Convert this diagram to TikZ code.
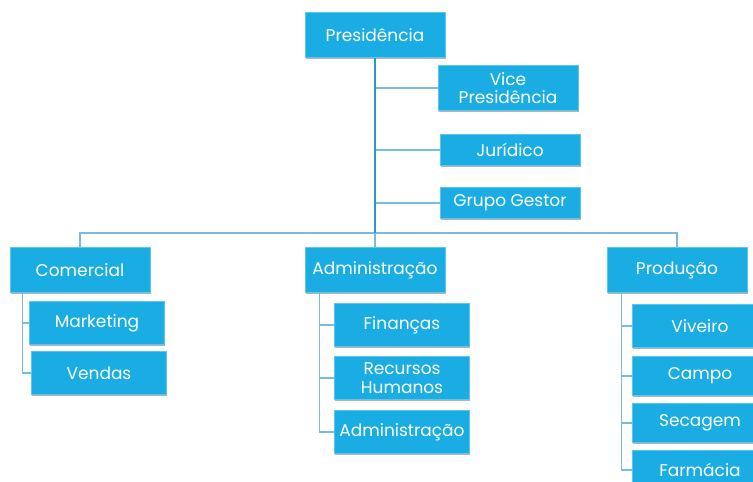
\documentclass[tikz,border=0pt]{standalone}
\usepackage{fontspec}
\setmainfont{Poppins}
\usepackage{tikz}
\usetikzlibrary{positioning}

\definecolor{boxblue}{HTML}{1AADE4}
\definecolor{boxedge}{HTML}{5CC6EE}
\definecolor{trunkblue}{HTML}{2C98C8}
\definecolor{linkblue}{HTML}{78BCDC}

\tikzset{
  unit/.style={fill=boxblue, draw=boxedge, line width=0.6pt, text=white,
    preaction={fill=black!30, transform canvas={shift={(0.6pt,-0.9pt)}}},
    align=center, inner sep=0pt, font=\fontsize{14.5}{16}\selectfont,
    minimum width=4.2cm, minimum height=1.35cm},
  subunit/.style={unit, minimum width=4.05cm, minimum height=1.3cm},
  trunk/.style={draw=trunkblue, line width=2.2pt},
  link/.style={draw=linkblue, line width=1.1pt}
}

\begin{document}
\begin{tikzpicture}[x=0.03cm,y=-0.03cm]
  \useasboundingbox (0,0) rectangle (753,482);
  \clip (0,0) rectangle (753,482);

  % topo
  \node[unit] (pres) at (375,35) {Presidência};
  \node[unit] (vice) at (508,88) {Vice\\Presidência};
  \node[unit, minimum height=0.93cm] (jur) at (510,150) {Jurídico};
  \node[unit, minimum height=0.93cm] (gest) at (510,203) {Grupo Gestor};

  % diretorias
  \node[unit] (com) at (80,270) {Comercial};
  \node[unit] (adm) at (375,270) {Administração};
  \node[unit] (prod) at (677,270) {Produção};

  % comercial
  \node[subunit] (mkt) at (97,323) {Marketing};
  \node[subunit] (vend) at (99,373) {Vendas};

  % administracao
  \node[subunit] (fin) at (402,325) {Finanças};
  \node[subunit] (rh) at (402,378) {Recursos\\Humanos};
  \node[subunit] (admb) at (402,432) {Administração};

  % producao
  \node[subunit] (viv) at (700,326) {Viveiro};
  \node[subunit, minimum height=1.17cm] (camp) at (700,376) {Campo};
  \node[subunit, minimum height=1.17cm] (sec) at (700,423) {Secagem};
  \node[subunit, minimum height=1.2cm] (farm) at (700,470) {Farmácia};

  \coordinate (bar) at (375,233);

  \draw[link] (vice.west) -- (vice.west -| pres.south);
  \draw[link] (jur.west) -- (jur.west -| pres.south);
  \draw[link] (gest.west) -- (gest.west -| pres.south);
  \draw[link] (com.north) |- (bar) -| (prod.north);
  \draw[link] (bar) -- (adm.north);
  \draw[trunk] (pres.south) -- (bar);

  \draw[link] ([xshift=13*0.03cm]com.south west) |- (mkt.west);
  \draw[link] ([xshift=13*0.03cm]com.south west) |- (vend.west);
  \draw[link] ([xshift=15*0.03cm]adm.south west) |- (fin.west);
  \draw[link] ([xshift=15*0.03cm]adm.south west) |- (rh.west);
  \draw[link] ([xshift=15*0.03cm]adm.south west) |- (admb.west);
  \draw[link] ([xshift=15*0.03cm]prod.south west) |- (viv.west);
  \draw[link] ([xshift=15*0.03cm]prod.south west) |- (camp.west);
  \draw[link] ([xshift=15*0.03cm]prod.south west) |- (sec.west);
  \draw[link] ([xshift=15*0.03cm]prod.south west) |- (farm.west);
\end{tikzpicture}
\end{document}
